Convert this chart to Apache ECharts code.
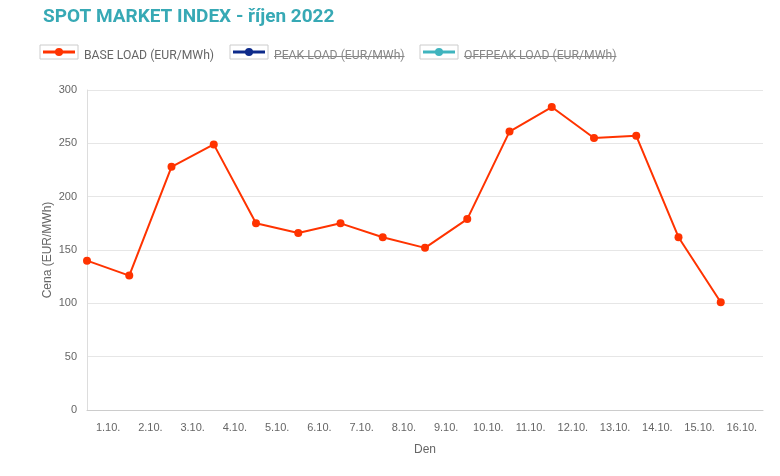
<!DOCTYPE html>
<html><head><meta charset="utf-8">
<script src="https://cdn.jsdelivr.net/npm/echarts@6/dist/echarts.min.js"></script>
<style>html,body{margin:0;padding:0;background:#fff}#c{width:780px;height:476px}</style>
</head><body><div id="c"></div>
<script>
var titleText = 'SPOT MARKET INDEX - říjen 2022';
var categories = ['1.10.','2.10.','3.10.','4.10.','5.10.','6.10.','7.10.','8.10.','9.10.','10.10.','11.10.','12.10.','13.10.','14.10.','15.10.','16.10.'];
var baseLoad = [140,126,228,249,175,166,175,162,152,179,261,284,255,257,162,101];
var legendNames = ['BASE LOAD (EUR/MWh)','PEAK LOAD (EUR/MWh)','OFFPEAK LOAD (EUR/MWh)'];
var legendColors = ['#ff3300','#0d2a8a','#3fb4be'];
var yTicks = {min:0,max:300,interval:50};

var pointSlots = categories.map(function(c,i){return i;}).concat([categories.length]);

var font = '"Liberation Sans", Arial, sans-serif';
var titleFont = 'Roboto, "Liberation Sans", Arial, sans-serif';
var legendFont = '12.2px Roboto, "Liberation Sans", Arial, sans-serif';
var chart = echarts.init(document.getElementById('c'), null, {renderer:'canvas'});

var mctx = document.createElement('canvas').getContext('2d');
mctx.font = legendFont;

function legendItem(x, textX, idx, strike){
  var els = [
    {type:'rect', shape:{x:x, y:45, width:38, height:14}, style:{fill:'#fff', stroke:'#cccccc', lineWidth:1}},
    {type:'line', shape:{x1:x+3, y1:52, x2:x+35, y2:52}, style:{stroke:legendColors[idx], lineWidth:3}},
    {type:'circle', shape:{cx:x+19, cy:52, r:4}, style:{fill:legendColors[idx]}},
    {type:'text', x:textX, y:56, style:{text:legendNames[idx], fill: idx===0?'#666':'#888', font:legendFont, verticalAlign:'middle'}}
  ];
  if (strike) {
    var w = mctx.measureText(legendNames[idx]).width;
    els.push({type:'line', shape:{x1:textX, y1:56.5, x2:textX + w, y2:56.5}, style:{stroke:'#888', lineWidth:1}});
  }
  return els;
}

var graphics = [].concat(
  legendItem(40, 84, 0, false),
  legendItem(230, 274, 1, true),
  legendItem(420, 464, 2, true)
);

chart.setOption({
  animation:false,
  title:{text:titleText, left:38, top:3, textStyle:{color:'#37a9b5', fontSize:19, fontWeight:'bold', fontFamily:titleFont}},
  graphic: graphics,
  grid:{left:87, right:17, top:90, bottom:66, containLabel:false},
  xAxis:[
    {type:'category', data:categories, boundaryGap:true,
     axisLine:{show:true, lineStyle:{color:'#cccccc', width:1}},
     axisTick:{show:false},
     axisLabel:{color:'#666', fontSize:11, fontFamily:font, margin:12, interval:0},
     name:'Den', nameLocation:'middle', nameGap:34, nameMoveOverlap:false,
     nameTextStyle:{color:'#666', fontSize:12, fontFamily:font},
     splitLine:{show:false}},
    {type:'category', data:pointSlots, boundaryGap:false, show:false}
  ],
  yAxis:{type:'value', min:yTicks.min, max:yTicks.max, interval:yTicks.interval,
     axisLine:{show:true, lineStyle:{color:'#dddddd'}},
     axisTick:{show:false},
     axisLabel:{color:'#666', fontSize:11, fontFamily:font, margin:10},
     splitLine:{lineStyle:{color:'#e6e6e6'}},
     name:'Cena (EUR/MWh)', nameLocation:'middle', nameGap:33, nameMoveOverlap:false,
     nameTextStyle:{color:'#666', fontSize:12, fontFamily:font}},
  series:[{
    name:legendNames[0], type:'line', xAxisIndex:1, data:baseLoad,
    symbol:'circle', symbolSize:8, showSymbol:true,
    lineStyle:{color:legendColors[0], width:2},
    itemStyle:{color:legendColors[0]}
  }]
});
</script></body></html>
